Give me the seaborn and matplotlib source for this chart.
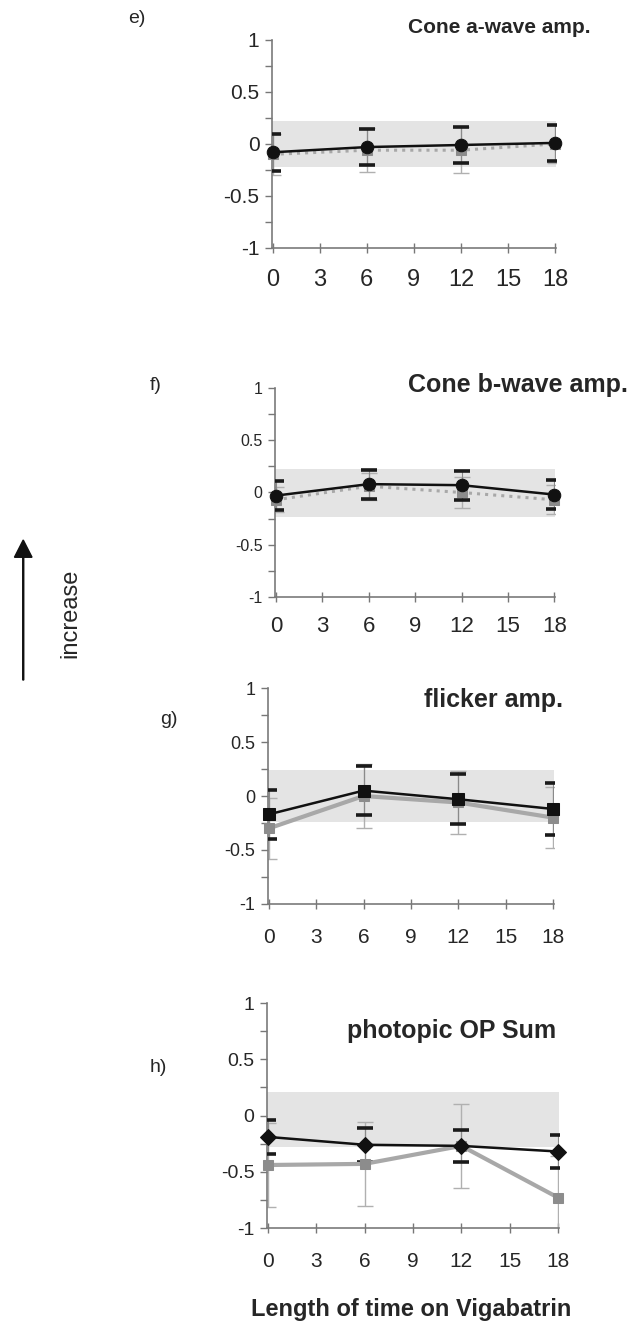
import numpy as np
import pandas as pd
import matplotlib
matplotlib.use("Agg")
import matplotlib.pyplot as plt
import seaborn as sns

months = [0, 6, 12, 18]
xticks = [0, 3, 6, 9, 12, 15, 18]

titles = ["Cone a-wave amp.", "Cone b-wave amp.", "flicker amp.", "photopic OP Sum"]
letters = ["e)", "f)", "g)", "h)"]

# black series (mean, error)
e_black = [-0.08, -0.03, -0.01, 0.01]
e_black_err = [0.18, 0.17, 0.17, 0.17]
f_black = [-0.03, 0.08, 0.07, -0.02]
f_black_err = [0.14, 0.14, 0.14, 0.14]
g_black = [-0.17, 0.05, -0.03, -0.12]
g_black_err = [0.23, 0.23, 0.23, 0.24]
h_black = [-0.19, -0.26, -0.27, -0.32]
h_black_err = [0.15, 0.15, 0.14, 0.15]

# gray series (mean, error)
e_gray = [-0.10, -0.06, -0.06, 0.00]
e_gray_err = [0.20, 0.21, 0.22, 0.18]
f_gray = [-0.07, 0.06, 0.00, -0.07]
f_gray_err = [0.12, 0.13, 0.15, 0.14]
g_gray = [-0.30, 0.00, -0.06, -0.20]
g_gray_err = [0.28, 0.30, 0.29, 0.28]
h_gray = [-0.44, -0.43, -0.27, -0.73]
h_gray_err = [0.37, 0.37, 0.37, 0.37]

# normal range band (low, high)
band_lo = [-0.22, -0.23, -0.24, -0.28]
band_hi = [0.22, 0.225, 0.24, 0.21]

black_all = [e_black, f_black, g_black, h_black]
black_err_all = [e_black_err, f_black_err, g_black_err, h_black_err]
gray_all = [e_gray, f_gray, g_gray, h_gray]
gray_err_all = [e_gray_err, f_gray_err, g_gray_err, h_gray_err]

black_marker = ["o", "o", "s", "D"]
gray_style = [":", ":", "-", "-"]

# axes boxes [left, bottom, width, height] in figure fraction
boxes = [
    [0.433, 0.8133, 0.452, 0.1566],
    [0.438, 0.5505, 0.446, 0.1573],
    [0.4268, 0.3193, 0.455, 0.1626],
    [0.425, 0.0753, 0.465, 0.1694],
]
ytick_fs = [15, 11.5, 13, 14]
xtick_fs = [17, 16, 15, 15]
xtick_pad = [12, 10, 14, 14]
title_pos = [(0.94, 0.979), (1.0, 0.710), (0.897, 0.473), (0.885, 0.224)]
letter_pos = [(0.204, 0.986), (0.239, 0.710), (0.255, 0.458), (0.239, 0.196)]

sns.set_style("white")
plt.rcParams['font.family'] = ['Liberation Sans', 'DejaVu Sans']

fig = plt.figure(figsize=(6.28, 13.28), dpi=100)

for i in range(4):
    ax = fig.add_axes(boxes[i])
    df = pd.DataFrame({
        "month": months * 2,
        "value": gray_all[i] + black_all[i],
        "group": ["gray"] * 4 + ["black"] * 4,
    })

    ax.axhspan(band_lo[i], band_hi[i], color="#e4e4e4", zorder=0, lw=0)

    ax.errorbar(months, gray_all[i], yerr=gray_err_all[i], fmt="none",
                ecolor="#b0b0b0", elinewidth=1.0, capsize=6, capthick=1.0, zorder=2)
    ax.errorbar(months, black_all[i], yerr=black_err_all[i], fmt="none",
                ecolor="#8a8a8a", elinewidth=0.8, capsize=6, capthick=0, zorder=3)
    # thick black caps
    ax.errorbar(months, black_all[i], yerr=black_err_all[i], fmt="none",
                ecolor="#1a1a1a", elinewidth=0, capsize=6, capthick=2.6, zorder=3)

    gdf = df[df.group == "gray"]
    bdf = df[df.group == "black"]
    sns.lineplot(data=gdf, x="month", y="value", ax=ax, color="#a8a8a8",
                 linestyle=gray_style[i], lw=3 if gray_style[i] == "-" else 2.2,
                 marker="s", markersize=7, markerfacecolor="#8c8c8c",
                 markeredgecolor="#8c8c8c", zorder=4, clip_on=False)
    sns.lineplot(data=bdf, x="month", y="value", ax=ax, color="#111111",
                 lw=1.8, marker=black_marker[i],
                 markersize=9 if black_marker[i] != "D" else 8,
                 markerfacecolor="#111111", markeredgecolor="#111111",
                 zorder=5, clip_on=False)

    ax.set_xlim(-0.05, 18.05)
    ax.set_ylim(-1, 1)
    ax.set_xticks(xticks)
    ax.set_xticklabels([str(t) for t in xticks], fontsize=xtick_fs[i])
    ax.set_yticks([-1, -0.5, 0, 0.5, 1])
    ax.set_yticklabels(["-1", "-0.5", "0", "0.5", "1"], fontsize=ytick_fs[i])
    ax.set_yticks([-0.75, -0.25, 0.25, 0.75], minor=True)
    ax.tick_params(axis="y", which="both", direction="out", length=5,
                   width=1, color="#777777", left=True, pad=4)
    ax.tick_params(axis="x", direction="inout", length=7, width=1,
                   color="#777777", bottom=True, pad=xtick_pad[i])
    ax.set_xlabel("")
    ax.set_ylabel("")
    for s in ["top", "right"]:
        ax.spines[s].set_visible(False)
    for s in ["left", "bottom"]:
        ax.spines[s].set_color("#7a7a7a")
        ax.spines[s].set_linewidth(1.2)
    ax.set_facecolor("none")

    fig.text(title_pos[i][0], title_pos[i][1], titles[i], ha="right", va="center",
             fontsize=18 if i else 15, fontweight="bold")
    fig.text(letter_pos[i][0], letter_pos[i][1], letters[i], ha="left", va="center",
             fontsize=14)

fig.text(0.655, 0.014, "Length of time on Vigabatrin", ha="center", va="center",
         fontsize=17, fontweight="bold")

# increase arrow
fig.patches.append(matplotlib.patches.FancyArrow(
    0.037, 1 - 680 / 1328, 0, (680 - 540) / 1328, width=0.0016,
    head_width=0.028, head_length=0.013, length_includes_head=True,
    color="#111111", transform=fig.transFigure, figure=fig))
fig.text(0.112, 1 - 613 / 1328, "increase", rotation=90, ha="center",
         va="center", fontsize=17)

fig.savefig("out.png", dpi=100)
